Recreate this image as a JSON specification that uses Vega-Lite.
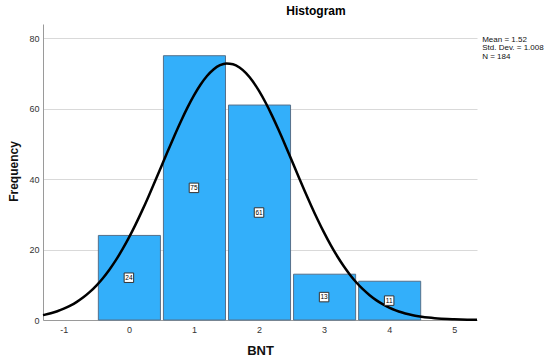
{
  "$schema": "https://vega.github.io/schema/vega-lite/v6.json",
  "width": 434,
  "height": 296,
  "autosize": {"type": "none"},
  "padding": {"left": 43, "top": 24, "right": 73, "bottom": 41},
  "background": "white",
  "config": {"font": "Liberation Sans", "view": {"stroke": null}},
  "title": {"text": "Histogram", "fontSize": 12, "fontWeight": "bold", "color": "#000000", "anchor": "middle", "dx": 56, "offset": 6},
  "datasets": {
    "bars": [
      {"BNT": 0, "bin_start": -0.5, "bin_end": 0.5, "count": 24},
      {"BNT": 1, "bin_start": 0.5, "bin_end": 1.5, "count": 75},
      {"BNT": 2, "bin_start": 1.5, "bin_end": 2.5, "count": 61},
      {"BNT": 3, "bin_start": 2.5, "bin_end": 3.5, "count": 13},
      {"BNT": 4, "bin_start": 3.5, "bin_end": 4.5, "count": 11}
    ],
    "curve": [
      {"x": -1.32, "y": 1.376}, {"x": -1.3, "y": 1.455}, {"x": -1.2, "y": 1.910}, {"x": -1.1, "y": 2.485},
      {"x": -1.0, "y": 3.200}, {"x": -0.9, "y": 4.080}, {"x": -0.8, "y": 5.152}, {"x": -0.7, "y": 6.442},
      {"x": -0.6, "y": 7.975}, {"x": -0.5, "y": 9.777}, {"x": -0.4, "y": 11.868}, {"x": -0.3, "y": 14.268},
      {"x": -0.2, "y": 16.983}, {"x": -0.1, "y": 20.015}, {"x": 0.0, "y": 23.362}, {"x": 0.1, "y": 26.997},
      {"x": 0.2, "y": 30.894}, {"x": 0.3, "y": 35.008}, {"x": 0.4, "y": 39.280}, {"x": 0.5, "y": 43.642},
      {"x": 0.6, "y": 48.013}, {"x": 0.7, "y": 52.306}, {"x": 0.8, "y": 56.424}, {"x": 0.9, "y": 60.270},
      {"x": 1.0, "y": 63.747}, {"x": 1.1, "y": 66.765}, {"x": 1.2, "y": 69.242}, {"x": 1.3, "y": 71.106},
      {"x": 1.4, "y": 72.306}, {"x": 1.5, "y": 72.805}, {"x": 1.6, "y": 72.591}, {"x": 1.7, "y": 71.668},
      {"x": 1.8, "y": 70.065}, {"x": 1.9, "y": 67.825}, {"x": 2.0, "y": 65.014}, {"x": 2.1, "y": 61.711},
      {"x": 2.2, "y": 58.000}, {"x": 2.3, "y": 53.979}, {"x": 2.4, "y": 49.745}, {"x": 2.5, "y": 45.395},
      {"x": 2.6, "y": 41.018}, {"x": 2.7, "y": 36.701}, {"x": 2.8, "y": 32.517}, {"x": 2.9, "y": 28.527},
      {"x": 3.0, "y": 24.782}, {"x": 3.1, "y": 21.317}, {"x": 3.2, "y": 18.158}, {"x": 3.3, "y": 15.315},
      {"x": 3.4, "y": 12.791}, {"x": 3.5, "y": 10.578}, {"x": 3.6, "y": 8.663}, {"x": 3.7, "y": 7.024},
      {"x": 3.8, "y": 5.640}, {"x": 3.9, "y": 4.484}, {"x": 4.0, "y": 3.530}, {"x": 4.1, "y": 2.752},
      {"x": 4.2, "y": 2.125}, {"x": 4.3, "y": 1.624}, {"x": 4.4, "y": 1.229}, {"x": 4.5, "y": 0.921},
      {"x": 4.6, "y": 0.684}, {"x": 4.7, "y": 0.502}, {"x": 4.8, "y": 0.366}, {"x": 4.9, "y": 0.263},
      {"x": 5.0, "y": 0.188}, {"x": 5.1, "y": 0.133}, {"x": 5.2, "y": 0.093}, {"x": 5.3, "y": 0.064},
      {"x": 5.35, "y": 0.053}
    ],
    "stats": [{"text": "Mean = 1.52\nStd. Dev. = 1.008\nN = 184"}]
  },
  "layer": [
    {
      "data": {"name": "bars"},
      "mark": {"type": "bar", "fill": "#33AFFA", "stroke": "#55708a", "strokeWidth": 1, "binSpacing": 3},
      "encoding": {
        "x": {
          "field": "bin_start", "type": "quantitative", "bin": "binned",
          "scale": {"domain": [-1.32, 5.35], "nice": false, "zero": false},
          "axis": {
            "values": [-1, 0, 1, 2, 3, 4, 5], "grid": false, "ticks": false, "labelPadding": 5,
            "labelFontSize": 9, "labelColor": "#333333", "labelExpr": "'' + datum.value",
            "domainColor": "#9a9a9a", "title": "BNT", "titleFontSize": 13, "titleFontWeight": "bold",
            "titleColor": "#111111", "titleY": 30, "titleBaseline": "middle"
          }
        },
        "x2": {"field": "bin_end"},
        "y": {
          "field": "count", "type": "quantitative",
          "scale": {"domain": [0, 84], "nice": false},
          "axis": {
            "values": [0, 20, 40, 60, 80], "grid": true, "gridColor": "#d9d9d9", "ticks": false,
            "labelPadding": 4, "labelFontSize": 9, "labelColor": "#333333", "domainColor": "#9a9a9a",
            "title": "Frequency", "titleFontSize": 12, "titleFontWeight": "bold", "titleColor": "#111111",
            "titleX": -30, "titleY": 147, "titleAngle": -90, "titleAlign": "center", "titleBaseline": "middle"
          }
        }
      }
    },
    {
      "data": {"name": "curve"},
      "mark": {"type": "line", "color": "#000000", "strokeWidth": 2.5, "interpolate": "monotone"},
      "encoding": {
        "x": {"field": "x", "type": "quantitative"},
        "y": {"field": "y", "type": "quantitative"}
      }
    },
    {
      "data": {"name": "bars"},
      "transform": [{"calculate": "datum.count / 2", "as": "mid"}],
      "mark": {"type": "square", "size": 90, "filled": true, "fill": "white", "stroke": "#333333", "strokeWidth": 1, "opacity": 1},
      "encoding": {
        "x": {"field": "BNT", "type": "quantitative"},
        "y": {"field": "mid", "type": "quantitative"}
      }
    },
    {
      "data": {"name": "bars"},
      "transform": [{"calculate": "datum.count / 2", "as": "mid"}],
      "mark": {"type": "text", "fontSize": 6.5, "color": "#000000", "baseline": "middle", "align": "center"},
      "encoding": {
        "x": {"field": "BNT", "type": "quantitative"},
        "y": {"field": "mid", "type": "quantitative"},
        "text": {"field": "count"}
      }
    },
    {
      "data": {"name": "stats"},
      "mark": {"type": "text", "align": "left", "baseline": "top", "fontSize": 8, "lineHeight": 8.5, "color": "#111111", "lineBreak": "\n"},
      "encoding": {
        "x": {"datum": 5.43},
        "y": {"datum": 80.7},
        "text": {"field": "text"}
      }
    }
  ]
}
